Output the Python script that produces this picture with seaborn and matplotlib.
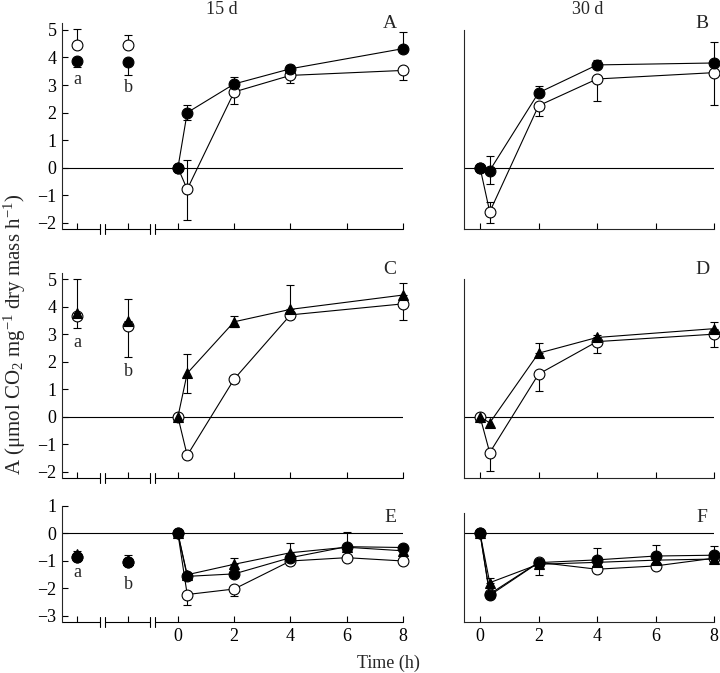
import numpy as np
import pandas as pd
import matplotlib
matplotlib.use("Agg")
import matplotlib.pyplot as plt
import seaborn as sns

sns.set_style("ticks")
plt.rcParams['font.family'] = ['Liberation Serif', 'DejaVu Serif']
plt.rcParams['mathtext.fontset'] = 'custom'
plt.rcParams['mathtext.rm'] = 'Liberation Serif'
plt.rcParams['mathtext.it'] = 'Liberation Serif:italic'

# =========================
# DATA
# =========================
times_5 = [0, 0.33, 2, 4, 8]
times_6 = [0, 0.33, 2, 4, 6, 8]
pre_labels = ["a", "b"]

# panel A (15 d)
A_open_pre = [4.45, 4.45]; A_open_pre_lo = [0, 0]; A_open_pre_hi = [0.6, 0.38]
A_fill_pre = [3.88, 3.84]; A_fill_pre_lo = [0.24, 0.46]; A_fill_pre_hi = [0, 0]
A_open = [0, -0.78, 2.75, 3.35, 3.53]; A_open_lo = [0, 1.1, 0.42, 0.28, 0.33]; A_open_hi = [0, 1.07, 0, 0, 0]
A_fill = [0, 2.0, 3.04, 3.59, 4.32]; A_fill_lo = [0, 0.28, 0, 0, 0]; A_fill_hi = [0, 0.28, 0.24, 0.12, 0.6]

# panel B (30 d)
B_open = [0, -1.6, 2.25, 3.22, 3.45]; B_open_lo = [0, 0.4, 0.38, 0.8, 1.18]; B_open_hi = [0, 0.35, 0, 0, 0]
B_fill = [0, -0.1, 2.72, 3.73, 3.8]; B_fill_lo = [0, 0.5, 0, 0, 0]; B_fill_hi = [0, 0.52, 0.26, 0.18, 0.77]

# panel C (15 d)
C_open_pre = [3.66, 3.3]; C_open_pre_lo = [0.42, 1.14]; C_open_pre_hi = [0, 0]
C_tri_pre = [3.78, 3.48]; C_tri_pre_lo = [0, 0]; C_tri_pre_hi = [1.21, 0.8]
C_open = [0, -1.4, 1.37, 3.7, 4.1]; C_open_lo = [0, 0, 0.15, 0.15, 0.6]; C_open_hi = [0, 0, 0.1, 0, 0]
C_tri = [0, 1.58, 3.45, 3.9, 4.42]; C_tri_lo = [0, 0.7, 0.2, 0, 0]; C_tri_hi = [0, 0.7, 0.2, 0.88, 0.45]

# panel D (30 d)
D_open = [0, -1.3, 1.55, 2.73, 3.0]; D_open_lo = [0, 0.68, 0.6, 0.42, 0.47]; D_open_hi = [0, 0, 0, 0, 0]
D_tri = [0, -0.22, 2.31, 2.88, 3.2]; D_tri_lo = [0, 0, 0, 0, 0]; D_tri_hi = [0, 0, 0.38, 0.1, 0.24]

# panel E (15 d)
E_open_pre = [-0.85, -1.05]
E_fill_pre = [-0.85, -1.05]
E_tri_pre = [-0.75, -0.95]; E_tri_pre_hi = [0.1, 0.15]
E_open = [0, -2.22, -2.02, -1.0, -0.88, -1.0]; E_open_lo = [0, 0.39, 0.25, 0.15, 0, 0]
E_fill = [0, -1.56, -1.47, -0.88, -0.48, -0.51]; E_fill_hi = [0, 0, 0, 0, 0.52, 0]
E_tri = [0, -1.5, -1.12, -0.7, -0.5, -0.63]; E_tri_hi = [0, 0, 0.24, 0.35, 0, 0]

# panel F (30 d)
F_open = [0, -2.2, -1.05, -1.3, -1.18, -0.9]
F_fill = [0, -2.25, -1.06, -0.96, -0.82, -0.79]; F_fill_hi = [0, 0, 0, 0.43, 0.41, 0.34]
F_tri = [0, -1.79, -1.12, -1.05, -0.97, -0.93]; F_tri_hi = [0, 0.16, 0, 0, 0, 0]; F_tri_lo = [0, 0, 0.4, 0, 0, 0]

# =========================
# STYLE / LAYOUT
# =========================
X_PRE = [-3.58, -1.77]       # positions of pre-treatment points a, b
LEFT_XLIM = (-4.12, 8)
RIGHT_XLIM = (-0.55, 8)
BREAKS = [(-2.77, -2.59), (-0.99, -0.82)]
STYLES = {
    "open": dict(marker="o", fc="white", ms=7.8, z=3),
    "tri": dict(marker="^", fc="black", ms=7.8, z=4),
    "fill": dict(marker="o", fc="black", ms=7.8, z=5),
}
LW = 0.8
FS = 13


def errbars(ax, x, y, lo, hi, z):
    x = np.asarray(x, float); y = np.asarray(y, float)
    lo = np.zeros_like(y) if lo is None else np.asarray(lo, float)
    hi = np.zeros_like(y) if hi is None else np.asarray(hi, float)
    m = (lo > 0) | (hi > 0)
    if m.any():
        eb = ax.errorbar(x[m], y[m], yerr=[lo[m], hi[m]], fmt="none", ecolor="k",
                         elinewidth=LW, capsize=3, capthick=LW, zorder=z - 0.5)
        for art in eb.lines[1] + eb.lines[2]:
            art.set_clip_on(False)


def series(ax, x, y, kind, lo=None, hi=None):
    st = STYLES[kind]
    df = pd.DataFrame({"t": x, "A": y})
    sns.lineplot(data=df, x="t", y="A", ax=ax, color="k", lw=LW, marker=st["marker"],
                 markersize=st["ms"], markerfacecolor=st["fc"], markeredgecolor="k",
                 markeredgewidth=LW, zorder=st["z"], estimator=None, sort=False,
                 clip_on=False)
    errbars(ax, x, y, lo, hi, st["z"])


def pre_points(ax, y, kind, lo=None, hi=None):
    st = STYLES[kind]
    df = pd.DataFrame({"t": X_PRE, "A": y})
    ax.plot(df["t"], df["A"], ls="none", marker=st["marker"], ms=st["ms"],
            mfc=st["fc"], mec="k", mew=LW, zorder=st["z"])
    errbars(ax, X_PRE, y, lo, hi, st["z"])


fig = plt.figure(figsize=(7.2, 6.73), dpi=100)
W, H = 720, 673
rows = [(23, 229), (273, 478), (506, 622)]
ylims = [(-2.22, 5.25), (-2.22, 5.22), (-3.22, 1.0)]
right_tops = [5.0, 5.0, 0.75]
yticks = [range(-2, 6), range(-2, 6), range(-3, 2)]

axes = []
for r, (top, bot) in enumerate(rows):
    axl = fig.add_axes([62 / W, 1 - bot / H, 341 / W, (bot - top) / H])
    axr = fig.add_axes([464 / W, 1 - bot / H, 250 / W, (bot - top) / H])
    axes.append((axl, axr))

    for ax in (axl, axr):
        ax.set_ylim(*ylims[r])
        ax.axhline(0, color="k", lw=LW, zorder=1)
        for s in ("top", "right"):
            ax.spines[s].set_visible(False)
        ax.spines["left"].set_linewidth(LW)
        ax.spines["bottom"].set_linewidth(LW)
        ax.tick_params(direction="in", length=4.5, width=LW, labelsize=FS, pad=4, colors="k")

    # left panel with broken axis
    axl.set_xlim(*LEFT_XLIM)
    axl.set_yticks(list(yticks[r]))
    axl.set_yticklabels([str(v).replace("-", "\u2212") for v in yticks[r]])
    axl.set_xticks(X_PRE + [0, 2, 4, 6, 8])
    if r == 2:
        axl.set_xticklabels(["", ""] + ["0", "2", "4", "6", "8"])
    else:
        axl.set_xticklabels([])
    axl.spines["bottom"].set_visible(False)
    tr = axl.get_xaxis_transform()
    segs = [LEFT_XLIM[0], BREAKS[0][0], BREAKS[0][1], BREAKS[1][0], BREAKS[1][1], LEFT_XLIM[1]]
    for i in range(0, 6, 2):
        axl.plot([segs[i], segs[i + 1]], [0, 0], color="k", lw=LW, transform=tr, clip_on=False)
    d = 5 / (bot - top)
    for b in BREAKS:
        for xb in b:
            axl.plot([xb, xb], [-d, d], color="k", lw=LW, transform=tr, clip_on=False)

    # right panel
    axr.set_xlim(*RIGHT_XLIM)
    axr.set_xticks([0, 2, 4, 6, 8])
    if r == 2:
        axr.set_xticklabels(["0", "2", "4", "6", "8"])
    else:
        axr.set_xticklabels([])
    axr.set_yticks([])
    axr.spines["left"].set_bounds(ylims[r][0], right_tops[r])

(aA, aB), (aC, aD), (aE, aF) = axes

# panel A
pre_points(aA, A_open_pre, "open", A_open_pre_lo, A_open_pre_hi)
pre_points(aA, A_fill_pre, "fill", A_fill_pre_lo, A_fill_pre_hi)
series(aA, times_5, A_open, "open", A_open_lo, A_open_hi)
series(aA, times_5, A_fill, "fill", A_fill_lo, A_fill_hi)
# panel B
series(aB, times_5, B_open, "open", B_open_lo, B_open_hi)
series(aB, times_5, B_fill, "fill", B_fill_lo, B_fill_hi)
# panel C
pre_points(aC, C_open_pre, "open", C_open_pre_lo, C_open_pre_hi)
pre_points(aC, C_tri_pre, "tri", C_tri_pre_lo, C_tri_pre_hi)
series(aC, times_5, C_open, "open", C_open_lo, C_open_hi)
series(aC, times_5, C_tri, "tri", C_tri_lo, C_tri_hi)
# panel D
series(aD, times_5, D_open, "open", D_open_lo, D_open_hi)
series(aD, times_5, D_tri, "tri", D_tri_lo, D_tri_hi)
# panel E
pre_points(aE, E_open_pre, "open")
pre_points(aE, E_tri_pre, "tri", None, E_tri_pre_hi)
pre_points(aE, E_fill_pre, "fill")
series(aE, times_6, E_open, "open", E_open_lo, None)
series(aE, times_6, E_tri, "tri", None, E_tri_hi)
series(aE, times_6, E_fill, "fill", None, E_fill_hi)
# panel F
series(aF, times_6, F_open, "open")
series(aF, times_6, F_tri, "tri", F_tri_lo, F_tri_hi)
series(aF, times_6, F_fill, "fill", None, F_fill_hi)

for pair in axes:
    for ax in pair:
        ax.set_xlabel("")
        ax.set_ylabel("")

# a / b labels under pre-treatment points
for ax, ys in ((aA, [3.2, 2.9]), (aC, [2.68, 1.63]), (aE, [-1.43, -1.87])):
    for xp, yp, lab in zip(X_PRE, ys, pre_labels):
        ax.text(xp, yp, lab, ha="center", va="center", fontsize=FS)

# panel letters and titles
for lab, px, py in (("A", 390, 24), ("B", 702, 24), ("C", 390, 269),
                    ("D", 702, 269), ("E", 390, 518), ("F", 702, 518)):
    fig.text(px / W, 1 - py / H, lab, ha="center", va="center", fontsize=14)
fig.text(222 / W, 1 - 9 / H, "15 d", ha="center", va="center", fontsize=FS)
fig.text(588 / W, 1 - 9 / H, "30 d", ha="center", va="center", fontsize=FS)
fig.text(388 / W, 1 - 663 / H, "Time (h)", ha="center", va="center", fontsize=FS)
fig.text(15 / W, 1 - 334 / H, r"A ($\mathrm{\mu}$mol CO$_2$ mg$^{-1}$ dry mass h$^{-1}$)",
         ha="center", va="center", rotation=90, fontsize=15)

fig.savefig("out.png", dpi=100)
